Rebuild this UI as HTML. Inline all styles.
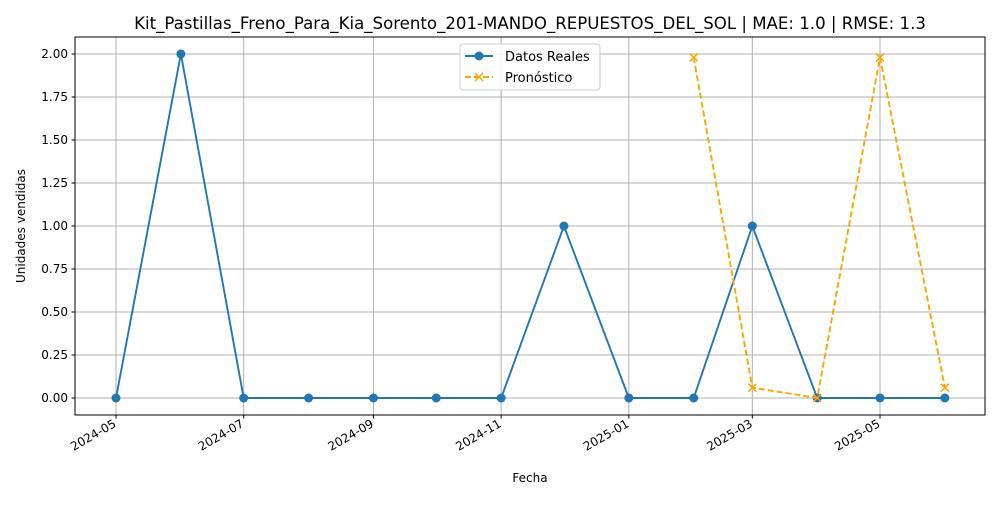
<!DOCTYPE html>
<html><head><meta charset="utf-8"><style>
body{margin:0;background:#fff;font-family:"Liberation Sans","DejaVu Sans",sans-serif}
svg text{font-family:"DejaVu Sans","Liberation Sans",sans-serif}
</style></head><body>
<svg id="c" width="1000" height="500" xmlns="http://www.w3.org/2000/svg"></svg>
<script>
const dates=["2024-05-01","2024-06-01","2024-07-01","2024-08-01","2024-09-01","2024-10-01","2024-11-01","2024-12-01","2025-01-01","2025-02-01","2025-03-01","2025-04-01","2025-05-01","2025-06-01"];
const actual=[0,2,0,0,0,0,0,1,0,0,1,0,0,0];
const fcDates=["2025-02-01","2025-03-01","2025-04-01","2025-05-01","2025-06-01"];
const forecast=[1.98,0.06,0,1.98,0.06];
const xTicks=["2024-05","2024-07","2024-09","2024-11","2025-01","2025-03","2025-05"];
const yTicks=[0,0.25,0.5,0.75,1.0,1.25,1.5,1.75,2.0];
const L=75,R=985,T=37,B=415;
const d0=Date.parse("2024-05-01"),px=764/(Date.parse("2025-05-01")-d0);
const X=d=>116+(Date.parse(d)-d0)*px;
const Y=v=>398-v*172;
const s=document.getElementById('c'),NS="http://www.w3.org/2000/svg";
function el(t,a,p){const e=document.createElementNS(NS,t);for(const k in a)e.setAttribute(k,a[k]);(p||s).appendChild(e);return e;}
let e;
yTicks.forEach(v=>{
e=el('line',{x1:L,x2:R,y1:Y(v),y2:Y(v),stroke:'#b0b0b0','stroke-width':1});


el('line',{x1:L-3.5,x2:L,y1:Y(v),y2:Y(v),stroke:'#000'});
e=el('text',{x:L-7,y:Y(v)+4,'text-anchor':'end','font-size':12});e.textContent=v.toFixed(2);


});
xTicks.forEach(t=>{
const x=X(t+"-01");
e=el('line',{x1:x,x2:x,y1:T,y2:B,stroke:'#b0b0b0','stroke-width':1});


el('line',{x1:x,x2:x,y1:B,y2:B+3.5,stroke:'#000'});
e=el('text',{x:x+1,y:B+11,'text-anchor':'end','font-size':12,transform:`rotate(-30 ${x+1} ${B+11})`});e.textContent=t;


});
e=el('polyline',{points:dates.map((d,i)=>X(d)+','+Y(actual[i])).join(' '),fill:'none',stroke:'#1f77b4','stroke-width':1.9});


dates.forEach((d,i)=>{e=el('circle',{cx:X(d),cy:Y(actual[i]),r:4.5,fill:'#1f77b4'});

});
e=el('polyline',{points:fcDates.map((d,i)=>X(d)+','+Y(forecast[i])).join(' '),fill:'none',stroke:'orange','stroke-width':1.9,'stroke-dasharray':'6,3'});


fcDates.forEach((d,i)=>{const x=X(d),y=Y(forecast[i]);
e=el('path',{d:`M${x-4},${y-4}L${x+4},${y+4}M${x-4},${y+4}L${x+4},${y-4}`,stroke:'orange','stroke-width':1.5});

});
e=el('rect',{x:L,y:T,width:R-L,height:B-T,fill:'none',stroke:'#000','stroke-width':1});


e=el('text',{x:530,y:29,'text-anchor':'middle','font-size':16.6});e.textContent="Kit_Pastillas_Freno_Para_Kia_Sorento_201-MANDO_REPUESTOS_DEL_SOL | MAE: 1.0 | RMSE: 1.3";


e=el('text',{x:530,y:482,'text-anchor':'middle','font-size':12});e.textContent="Fecha";


e=el('text',{x:25,y:226,'text-anchor':'middle','font-size':12,transform:'rotate(-90 25 226)'});e.textContent="Unidades vendidas";


const g=el('g',{});


el('rect',{x:460,y:44,width:140,height:46,rx:3,fill:'#fff','fill-opacity':0.8,stroke:'#ccc'},g);
el('line',{x1:465,x2:493,y1:56,y2:56,stroke:'#1f77b4','stroke-width':1.9},g);
el('circle',{cx:479,cy:56,r:4.5,fill:'#1f77b4'},g);
e=el('text',{x:505,y:61,'font-size':13},g);e.textContent="Datos Reales";


el('line',{x1:465,x2:493,y1:77,y2:77,stroke:'orange','stroke-width':1.9,'stroke-dasharray':'6,3'},g);
el('path',{d:'M475,73L483,81M475,81L483,73',stroke:'orange','stroke-width':1.5},g);
e=el('text',{x:505,y:82,'font-size':13},g);e.textContent="Pronóstico";


</script>
</body></html>
